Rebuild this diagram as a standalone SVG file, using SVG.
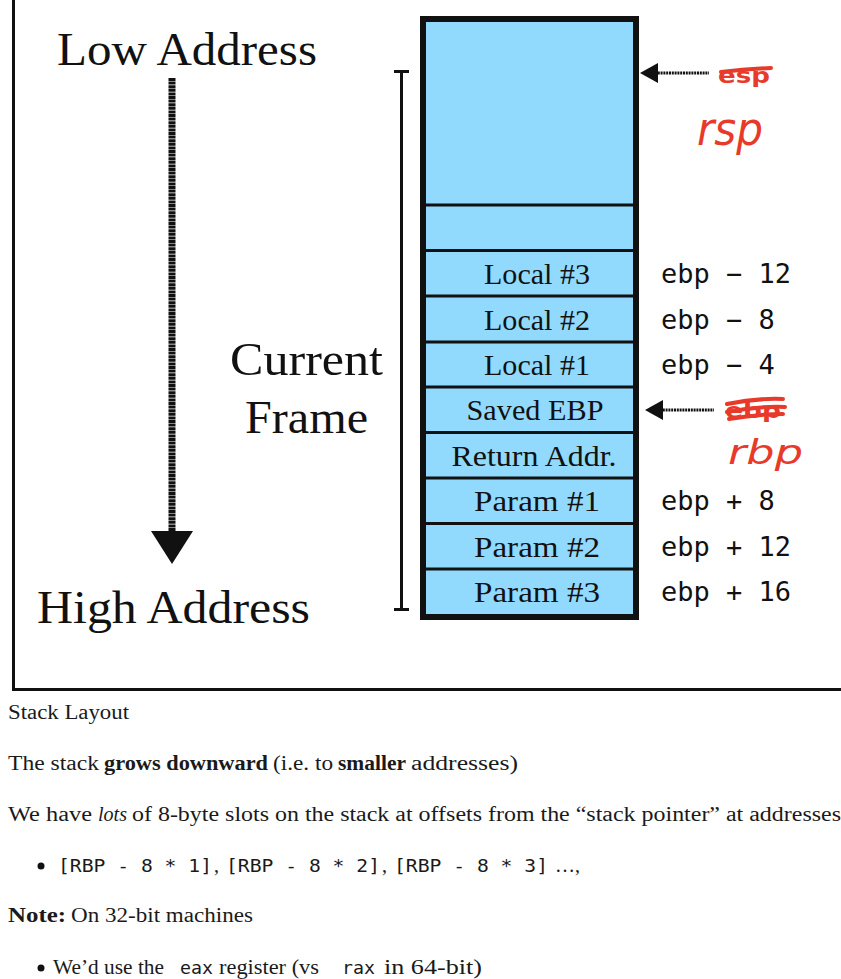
<svg xmlns="http://www.w3.org/2000/svg" width="841" height="979" viewBox="0 0 841 979">
  <style>
    .big { font-family: "Liberation Serif", "DejaVu Serif", serif; font-size: 46px; fill: #111; }
    .cell { font-family: "Liberation Serif", "DejaVu Serif", serif; font-size: 29px; fill: #111; text-anchor: middle; }
    .off { font-family: "DejaVu Sans Mono", "Liberation Mono", monospace; font-size: 27px; fill: #111; }
    .body { font-family: "Liberation Serif", "DejaVu Serif", serif; font-size: 20px; fill: #1a1a1a; }
    .b { font-weight: bold; }
    .mono { font-family: "DejaVu Sans Mono", "Liberation Mono", monospace; font-size: 18px; }
    .red { fill: #e83a2a; }
    .pen { stroke: #e83a2a; stroke-width: 4; fill: none; stroke-linecap: round; stroke-linejoin: round; }
  </style>

  <rect width="841" height="979" fill="#fff"/>

  <!-- figure frame -->
  <path d="M13.5 0 V689.5 H841" fill="none" stroke="#111" stroke-width="3"/>

  <!-- address direction -->
  <g id="low-address">
    <text class="big" x="57" y="65" textLength="260" lengthAdjust="spacingAndGlyphs">Low Address</text>
  </g>
  <g id="high-address">
    <text class="big" x="37" y="623" textLength="273" lengthAdjust="spacingAndGlyphs">High Address</text>
  </g>
  <g id="growth-arrow">
    <line x1="172" y1="78" x2="172" y2="535" stroke="#111" stroke-width="7" stroke-dasharray="3 0.6"/>
    <polygon points="151,531 193,531 172,564" fill="#111"/>
  </g>

  <!-- current frame bracket -->
  <g id="current-frame">
    <path d="M394 71.5 H409 M401.5 71.5 V609.5 M394 609.5 H409" fill="none" stroke="#111" stroke-width="3"/>
    <text class="big" x="230" y="375" textLength="153" lengthAdjust="spacingAndGlyphs">Current</text>
    <text class="big" x="245" y="433" textLength="123" lengthAdjust="spacingAndGlyphs">Frame</text>
  </g>

  <!-- stack -->
  <g id="stack">
    <rect x="423" y="19" width="213" height="598" fill="#91dafd" stroke="#111" stroke-width="6"/>
    <g stroke="#111" stroke-width="3">
      <line x1="426" y1="205" x2="633" y2="205"/>
      <line x1="426" y1="250.5" x2="633" y2="250.5"/>
      <line x1="426" y1="296" x2="633" y2="296"/>
      <line x1="426" y1="342" x2="633" y2="342"/>
      <line x1="426" y1="387" x2="633" y2="387"/>
      <line x1="426" y1="432.5" x2="633" y2="432.5"/>
      <line x1="426" y1="478" x2="633" y2="478"/>
      <line x1="426" y1="523.5" x2="633" y2="523.5"/>
      <line x1="426" y1="569" x2="633" y2="569"/>
    </g>
  </g>
  <g id="local-3"><text class="cell" x="537" y="284" textLength="106" lengthAdjust="spacingAndGlyphs">Local #3</text></g>
  <g id="local-2"><text class="cell" x="537" y="330" textLength="106" lengthAdjust="spacingAndGlyphs">Local #2</text></g>
  <g id="local-1"><text class="cell" x="537" y="375" textLength="106" lengthAdjust="spacingAndGlyphs">Local #1</text></g>
  <g id="saved-ebp"><text class="cell" x="535" y="420" textLength="137" lengthAdjust="spacingAndGlyphs">Saved EBP</text></g>
  <g id="return-addr"><text class="cell" x="534" y="466" textLength="165" lengthAdjust="spacingAndGlyphs">Return Addr.</text></g>
  <g id="param-1"><text class="cell" x="537" y="511" textLength="126" lengthAdjust="spacingAndGlyphs">Param #1</text></g>
  <g id="param-2"><text class="cell" x="537" y="557" textLength="126" lengthAdjust="spacingAndGlyphs">Param #2</text></g>
  <g id="param-3"><text class="cell" x="537" y="602" textLength="126" lengthAdjust="spacingAndGlyphs">Param #3</text></g>

  <!-- offsets from ebp -->
  <g id="offsets">
    <text class="off" x="661" y="283" xml:space="preserve">ebp − 12</text>
    <text class="off" x="661" y="329" xml:space="preserve">ebp − 8</text>
    <text class="off" x="661" y="374" xml:space="preserve">ebp − 4</text>
    <text class="off" x="661" y="510" xml:space="preserve">ebp + 8</text>
    <text class="off" x="661" y="556" xml:space="preserve">ebp + 12</text>
    <text class="off" x="661" y="601" xml:space="preserve">ebp + 16</text>
  </g>

  <!-- register pointers -->
  <g id="connectors">
    <line x1="655" y1="73" x2="709" y2="73" stroke="#111" stroke-width="3" stroke-dasharray="2 0.8"/>
    <polygon points="640,73 658,63 658,83" fill="#111"/>
    <line x1="660" y1="410" x2="714" y2="410" stroke="#111" stroke-width="3" stroke-dasharray="2 0.8"/>
    <polygon points="645,410 663,400 663,420" fill="#111"/>
  </g>

  <g id="sp-label">
    <text class="red" x="718" y="83" font-family="DejaVu Sans, sans-serif" font-weight="bold" font-size="22" textLength="52" lengthAdjust="spacingAndGlyphs">esp</text>
    <path class="pen" d="M721 72 Q745 69 771 68"/>
    <text class="red" x="697" y="145" font-family="DejaVu Sans, sans-serif" font-size="46" font-style="italic" textLength="66" lengthAdjust="spacingAndGlyphs">rsp</text>
  </g>
  <g id="bp-label">
    <text class="red" x="725" y="418" font-family="DejaVu Sans, sans-serif" font-weight="bold" font-size="22" textLength="56" lengthAdjust="spacingAndGlyphs">ebp</text>
    <path class="pen" d="M727 404 Q755 398 783 399 M727 412 Q756 406 785 407 M729 419 Q757 414 783 414"/>
    <text class="red" x="728" y="464" font-family="DejaVu Sans, sans-serif" font-size="34" font-style="italic" textLength="75" lengthAdjust="spacingAndGlyphs">rbp</text>
  </g>

  <!-- notes below the figure -->
  <g id="notes" class="body">
    <text x="8" y="719" textLength="121" lengthAdjust="spacingAndGlyphs">Stack Layout</text>
    <text y="770"><tspan x="8" textLength="91" lengthAdjust="spacingAndGlyphs">The stack</tspan><tspan class="b" x="104" textLength="164" lengthAdjust="spacingAndGlyphs">grows downward</tspan><tspan x="273" textLength="60" lengthAdjust="spacingAndGlyphs">(i.e. to</tspan><tspan class="b" x="338" textLength="68" lengthAdjust="spacingAndGlyphs">smaller</tspan><tspan x="411" textLength="107" lengthAdjust="spacingAndGlyphs">addresses)</tspan></text>
    <text y="821"><tspan x="8" textLength="84" lengthAdjust="spacingAndGlyphs">We have</tspan><tspan x="98" font-style="italic" textLength="29" lengthAdjust="spacingAndGlyphs">lots</tspan><tspan x="132" textLength="709" lengthAdjust="spacingAndGlyphs">of 8-byte slots on the stack at offsets from the “stack pointer” at addresses</tspan></text>
    <circle cx="41" cy="866" r="3.5" fill="#111"/>
    <text y="872"><tspan class="mono" x="58" textLength="154" lengthAdjust="spacingAndGlyphs">[RBP - 8 * 1]</tspan><tspan x="214">,</tspan><tspan class="mono" x="226" textLength="154" lengthAdjust="spacingAndGlyphs">[RBP - 8 * 2]</tspan><tspan x="382">,</tspan><tspan class="mono" x="394" textLength="154" lengthAdjust="spacingAndGlyphs">[RBP - 8 * 3]</tspan><tspan x="555">…,</tspan></text>
    <text y="922"><tspan class="b" x="8" textLength="58" lengthAdjust="spacingAndGlyphs">Note:</tspan><tspan x="71" textLength="182" lengthAdjust="spacingAndGlyphs">On 32-bit machines</tspan></text>
    <circle cx="41" cy="968" r="3.5" fill="#111"/>
    <text y="974"><tspan x="53" textLength="111" lengthAdjust="spacingAndGlyphs">We’d use the</tspan><tspan class="mono" x="180" textLength="33" lengthAdjust="spacingAndGlyphs">eax</tspan><tspan x="219" textLength="100" lengthAdjust="spacingAndGlyphs">register (vs</tspan><tspan class="mono" x="342" textLength="33" lengthAdjust="spacingAndGlyphs">rax</tspan><tspan x="384" textLength="98" lengthAdjust="spacingAndGlyphs">in 64-bit)</tspan></text>
  </g>
</svg>
